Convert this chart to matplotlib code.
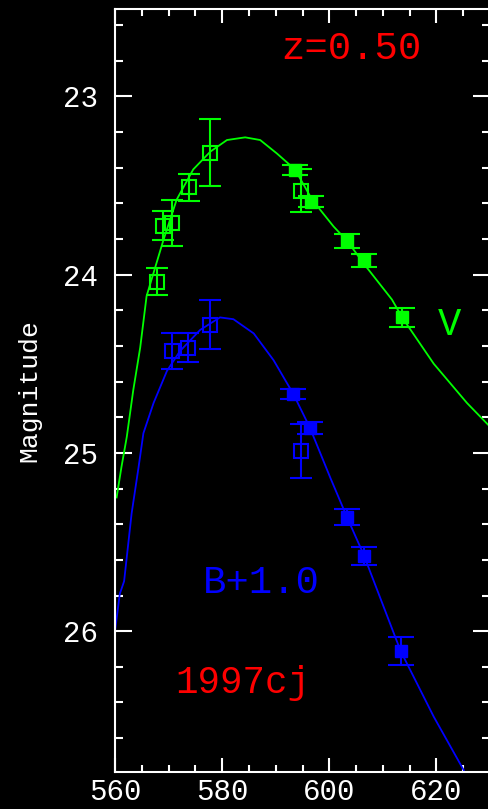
import numpy as np
import matplotlib
matplotlib.use("Agg")
import matplotlib.pyplot as plt
from matplotlib.ticker import MultipleLocator

# V band data (open = one set, filled = other set)
v_open_t = [567.9, 568.9, 570.6, 573.9, 577.8, 594.8]
v_open_m = [24.04, 23.725, 23.71, 23.51, 23.315, 23.53]
v_open_e = [0.077, 0.08, 0.127, 0.076, 0.187, 0.12]

v_fill_t = [593.6, 596.6, 603.3, 606.4, 613.6]
v_fill_m = [23.414, 23.59, 23.81, 23.92, 24.24]
v_fill_e = [0.028, 0.03, 0.04, 0.035, 0.053]

# B+1.0 data
b_open_t = [570.6, 573.7, 577.8, 594.8]
b_open_m = [24.43, 24.41, 24.28, 24.99]
b_open_e = [0.1, 0.08, 0.14, 0.15]

b_fill_t = [593.3, 596.4, 603.3, 606.4, 613.3]
b_fill_m = [24.67, 24.86, 25.36, 25.58, 26.11]
b_fill_e = [0.03, 0.035, 0.045, 0.05, 0.08]

# fitted template curves
v_curve_t = [560.3, 561.2, 562.2, 563.4, 564.7, 565.9, 569.0, 571.5, 574.6, 577.8,
             580.9, 584.3, 587.1, 590.2, 593.6, 596.8, 600.8, 603.3, 607.0, 611.7,
             613.6, 619.5, 625.7, 629.9]
v_curve_m = [25.25, 25.08, 24.91, 24.65, 24.41, 24.12, 23.81, 23.58, 23.41, 23.31,
             23.245, 23.23, 23.245, 23.32, 23.41, 23.58, 23.73, 23.81, 23.96, 24.14,
             24.24, 24.5, 24.72, 24.85]

b_curve_t = [560.0, 560.9, 561.7, 563.1, 564.4, 565.3, 567.2, 569.7, 572.1, 575.9,
             579.6, 582.1, 585.9, 589.6, 593.3, 596.4, 600.2, 603.3, 606.4, 613.3,
             619.5, 625.1]
b_curve_m = [26.0, 25.79, 25.72, 25.34, 25.08, 24.89, 24.72, 24.54, 24.43, 24.31,
             24.24, 24.25, 24.33, 24.48, 24.67, 24.86, 25.14, 25.36, 25.57, 26.11,
             26.48, 26.78]

green = "#00ff00"
blue = "#0000ff"
red = "#ff0000"
font = "Liberation Mono"

fig = plt.figure(figsize=(4.88, 8.09), dpi=100, facecolor="black")
# axes box in pixels: left 115, right 490, top 9, bottom 772
ax = fig.add_axes([115 / 488, 37 / 809, 375 / 488, 763 / 809])
ax.set_facecolor("black")

ax.plot(v_curve_t, v_curve_m, color=green, lw=1.3)
ax.plot(b_curve_t, b_curve_m, color=blue, lw=1.3)

for t, m, e, col in [(v_open_t, v_open_m, v_open_e, green), (b_open_t, b_open_m, b_open_e, blue)]:
    ax.errorbar(t, m, yerr=e, fmt="s", ms=10, mfc="none", mec=col, mew=1.5,
                ecolor=col, elinewidth=1.5, capsize=8, capthick=1.5)
for t, m, e, col in [(v_fill_t, v_fill_m, v_fill_e, green), (b_fill_t, b_fill_m, b_fill_e, blue)]:
    ax.errorbar(t, m, yerr=e, fmt="s", ms=8.5, mfc=col, mec=col,
                ecolor=col, elinewidth=1.5, capsize=9.5, capthick=1.5)

ax.set_xlim(560, 630)
ax.set_ylim(26.79, 22.51)

ax.xaxis.set_major_locator(MultipleLocator(20))
ax.xaxis.set_minor_locator(MultipleLocator(5))
ax.yaxis.set_major_locator(MultipleLocator(1))
ax.yaxis.set_minor_locator(MultipleLocator(0.2))

for s in ax.spines.values():
    s.set_color("white")
    s.set_linewidth(1.5)

ax.tick_params(axis="both", which="both", direction="in", colors="white",
               top=True, right=True, width=1.5)
ax.tick_params(axis="x", which="major", length=10, pad=4)
ax.tick_params(axis="x", which="minor", length=5)
ax.tick_params(axis="y", which="major", length=12, pad=12)
ax.tick_params(axis="y", which="minor", length=6)
for lab in ax.get_xticklabels() + ax.get_yticklabels():
    lab.set_fontfamily(font)
    lab.set_fontsize(21)
    lab.set_color("white")

fig.text(29 / 488, 1 - 391 / 809, "Magnitude", rotation=90, ha="center", va="center",
         color="white", fontsize=19, family=font)

ax.text(604.1, 22.734, "z=0.50", color=red, fontsize=28, family=font, ha="center", va="center")
ax.text(622.5, 24.28, "V", color=green, fontsize=28, family=font, ha="center", va="center")
ax.text(587.3, 25.73, "B+1.0", color=blue, fontsize=28, family=font, ha="center", va="center")
ax.text(583.9, 26.29, "1997cj", color=red, fontsize=27, family=font, ha="center", va="center")

fig.savefig("out.png", dpi=100, facecolor="black")
